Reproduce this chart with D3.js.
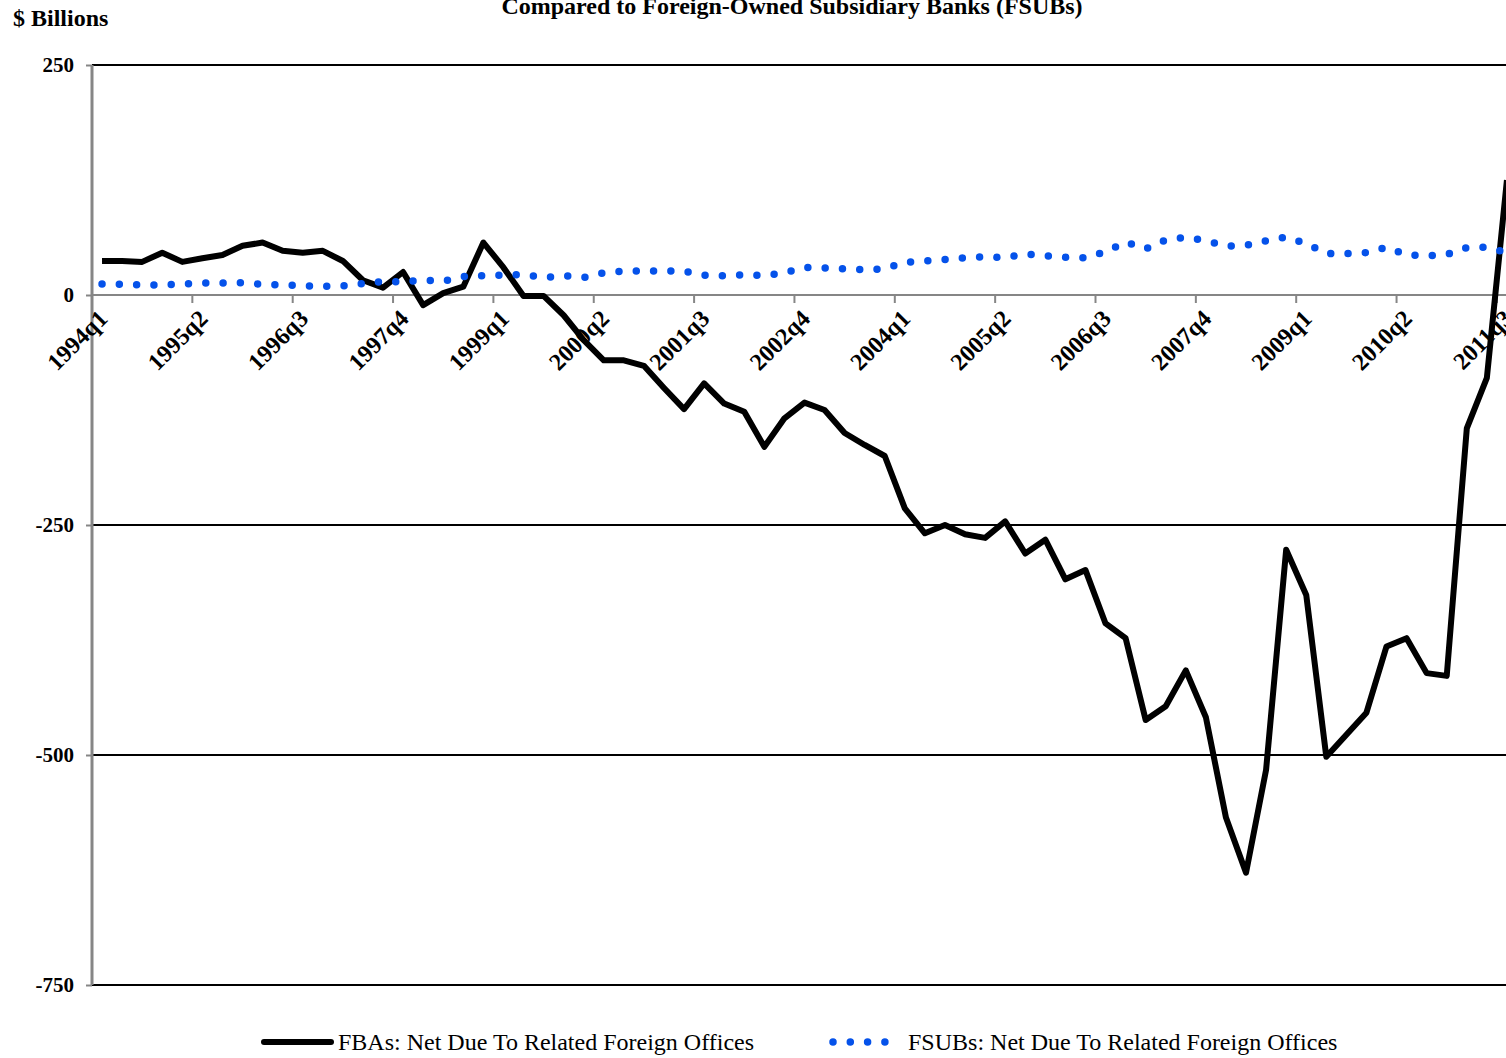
<!DOCTYPE html>
<html lang="en">
  <head>
    <meta charset="UTF-8">
    <script type="text/javascript" src="https://cdn.jsdelivr.net/npm/d3@7"></script>
    <style>
      body { margin: 0; background: #fff; }
      svg { display: block; font-family: 'Liberation Serif', 'Times New Roman', serif; }
      /* override d3 axis defaults */
      .axis text { font-family: 'Liberation Serif', 'Times New Roman', serif; font-size: 21px; font-weight: bold; fill: #000; }
      .axis path, .axis line { stroke: #868686; stroke-width: 2; }
      .x.axis text { font-size: 24px; }
    </style>
    <title>FBAs vs FSUBs</title>
  </head>
  <body>
    <script type="text/javascript">
      // Quarterly categories, 1994q1 .. 2011q3
      let quarters = [
        '1994q1','1994q2','1994q3','1994q4','1995q1','1995q2','1995q3','1995q4',
        '1996q1','1996q2','1996q3','1996q4','1997q1','1997q2','1997q3','1997q4',
        '1998q1','1998q2','1998q3','1998q4','1999q1','1999q2','1999q3','1999q4',
        '2000q1','2000q2','2000q3','2000q4','2001q1','2001q2','2001q3','2001q4',
        '2002q1','2002q2','2002q3','2002q4','2003q1','2003q2','2003q3','2003q4',
        '2004q1','2004q2','2004q3','2004q4','2005q1','2005q2','2005q3','2005q4',
        '2006q1','2006q2','2006q3','2006q4','2007q1','2007q2','2007q3','2007q4',
        '2008q1','2008q2','2008q3','2008q4','2009q1','2009q2','2009q3','2009q4',
        '2010q1','2010q2','2010q3','2010q4','2011q1','2011q2','2011q3'
      ];

      // FBAs: Net Due To Related Foreign Offices ($ billions)
      let fba = [
        37, 37, 36, 46, 36, 40, 43.5, 53.5, 57, 48,
        46, 48, 37, 16, 8, 25, -11, 2, 9, 57,
        30, -1, -1, -22, -49, -71, -71, -77, -101, -124,
        -96, -118, -127, -165, -134, -117, -125, -150, -163, -175,
        -232, -259, -250, -260, -264, -246, -281, -266, -309, -299,
        -357, -373, -462, -447, -408, -459, -568, -628, -516, -277,
        -326, -502, -478, -454, -382, -373, -411, -414, -145, -90,
        125
      ];

      // FSUBs: Net Due To Related Foreign Offices ($ billions)
      let fsub = [
        12, 11.5, 11, 11, 12, 13, 13, 13.5, 11.5, 11,
        10, 9.5, 10, 12.5, 14.5, 14.5, 16, 15, 20, 21,
        21.5, 22.5, 19, 21, 19, 24, 26, 26, 26, 26,
        21.5, 21, 22, 21, 24, 30, 29.5, 28.5, 27.5, 28.5,
        35.5, 37, 38.5, 40.5, 41.5, 40.5, 44.5, 42.5, 41, 40.5,
        47, 57.5, 50, 60, 62.5, 59, 53, 54, 59, 63,
        56, 45, 45, 46, 52, 43.5, 42.5, 44, 51.5, 52,
        46
      ];

      let tickLabels = ['1994q1','1995q2','1996q3','1997q4','1999q1','2000q2','2001q3',
                        '2002q4','2004q1','2005q2','2006q3','2007q4','2009q1','2010q2','2011q3'];
      let yTicks = [250, 0, -250, -500, -750];

      let w = 1506;
      let h = 1058;
      let plotLeft = 92;
      let plotTop = 65;
      let plotBottom = 985;
      let step = 20.07;

      let svg = d3.select('body')
                  .append('svg')
                  .attr('width', w)
                  .attr('height', h);

      // Scales
      let xScale = d3.scaleBand()
                      .domain(quarters)
                      .range([plotLeft, plotLeft + quarters.length * step]);
      let yScale = d3.scaleLinear()
                      .domain([-750, 250])
                      .range([plotBottom, plotTop]);
      let cx = d => xScale(d) + xScale.bandwidth() / 2;

      // Horizontal gridlines
      svg.append('g')
          .selectAll('line')
          .data(yTicks.filter(d => d !== 0))
          .enter()
          .append('line')
          .attr('x1', plotLeft)
          .attr('x2', w)
          .attr('y1', d => yScale(d))
          .attr('y2', d => yScale(d))
          .attr('stroke', '#000')
          .attr('stroke-width', 2);

      // y axis (plain hyphen for negatives)
      let yAxis = d3.axisLeft(yScale)
                      .tickValues(yTicks)
                      .tickSize(6)
                      .tickPadding(12)
                      .tickFormat(d => String(d));
      svg.append('g')
          .attr('class', 'y axis')
          .attr('transform', 'translate(' + plotLeft + ',0)')
          .call(yAxis)
          .call(g => g.select('.domain').attr('d', 'M0,' + plotTop + 'V' + plotBottom).style('stroke-width', 3));

      // x axis along zero, ticks at band edges every 5 quarters
      let xg = svg.append('g').attr('class', 'x axis');
      xg.append('line')
          .attr('x1', plotLeft).attr('x2', w)
          .attr('y1', yScale(0)).attr('y2', yScale(0));
      xg.selectAll('.tick')
          .data(tickLabels)
          .enter()
          .append('line')
          .attr('x1', d => xScale(d))
          .attr('x2', d => xScale(d))
          .attr('y1', yScale(0))
          .attr('y2', yScale(0) + 8);
      xg.selectAll('text')
          .data(tickLabels)
          .enter()
          .append('text')
          .attr('transform', d => 'translate(' + (cx(d) + 1) + ',' + (yScale(0) + 19) + ') rotate(-45)')
          .attr('text-anchor', 'end')
          .attr('dy', '0.35em')
          .text(d => d);

      // Lines
      let line = (vals) => d3.line()
                      .x((d, i) => cx(quarters[i]))
                      .y(d => yScale(d))(vals);

      svg.append('path')
          .attr('d', line(fba))
          .attr('fill', 'none')
          .attr('stroke', '#000')
          .attr('stroke-width', 6)
          .attr('stroke-linejoin', 'round');

      svg.append('path')
          .attr('d', line(fsub))
          .attr('fill', 'none')
          .attr('stroke', '#0552ea')
          .attr('stroke-width', 7.5)
          .attr('stroke-linecap', 'round')
          .attr('stroke-dasharray', '0 17.3');

      // Titles
      svg.append('text')
          .attr('x', 792)
          .attr('y', 14)
          .attr('text-anchor', 'middle')
          .attr('font-size', 24)
          .attr('font-weight', 'bold')
          .text('Compared to Foreign-Owned Subsidiary Banks (FSUBs)');

      svg.append('text')
          .attr('x', 13)
          .attr('y', 26)
          .attr('font-size', 24)
          .attr('font-weight', 'bold')
          .text('$ Billions');

      // Legend
      let ly = 1042;
      svg.append('line')
          .attr('x1', 264).attr('x2', 331)
          .attr('y1', ly).attr('y2', ly)
          .attr('stroke', '#000')
          .attr('stroke-width', 6)
          .attr('stroke-linecap', 'round');
      svg.append('text')
          .attr('x', 338)
          .attr('y', ly + 8)
          .attr('font-size', 24)
          .text('FBAs: Net Due To Related Foreign Offices');

      svg.append('line')
          .attr('x1', 833).attr('x2', 885)
          .attr('y1', ly).attr('y2', ly)
          .attr('stroke', '#0552ea')
          .attr('stroke-width', 7.5)
          .attr('stroke-linecap', 'round')
          .attr('stroke-dasharray', '0 17.3');
      svg.append('text')
          .attr('x', 908)
          .attr('y', ly + 8)
          .attr('font-size', 24)
          .text('FSUBs: Net Due To Related Foreign Offices');
    </script>
  </body>
</html>
